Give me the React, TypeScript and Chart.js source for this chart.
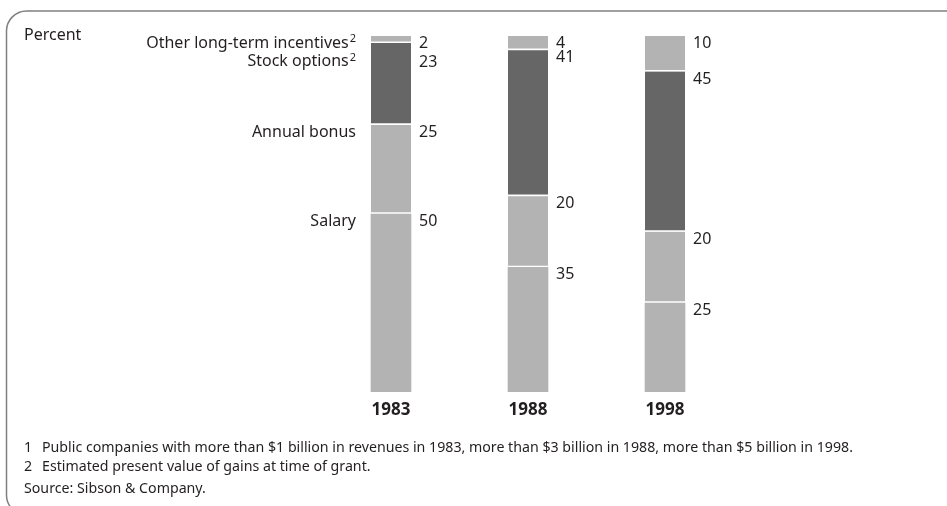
import React, { useEffect, useRef } from "react";
import { Chart, registerables } from "chart.js";

Chart.register(...registerables);

const years = ["1983", "1988", "1998"];
const salary = [50, 35, 25];
const annualBonus = [25, 20, 20];
const stockOptions = [23, 41, 45];
const otherLongTerm = [2, 4, 10];
const seriesNames = ["Salary", "Annual bonus", "Stock options", "Other long-term incentives"];
const seriesNotes = ["", "", "2", "2"];
const unitLabel = "Percent";
const footnotes = [
  ["1", "Public companies with more than $1 billion in revenues in 1983, more than $3 billion in 1988, more than $5 billion in 1998."],
  ["2", "Estimated present value of gains at time of grant."],
];
const sourceNote = "Source: Sibson & Company.";

const LIGHT = "#b3b3b3";
const DARK = "#666666";
const TEXT = "#231f20";
const FONT = "'Noto Sans', sans-serif";

const framePlugin = {
  id: "frame",
  beforeDraw(chart: any) {
    const ctx = chart.ctx;
    ctx.save();
    ctx.strokeStyle = "#808080";
    ctx.lineWidth = 1.5;
    const x = 6.5, y = 11, r = 20, b = 515;
    ctx.beginPath();
    ctx.moveTo(chart.width, y);
    ctx.lineTo(x + r, y);
    ctx.arcTo(x, y, x, y + r, r);
    ctx.lineTo(x, b - r);
    ctx.arcTo(x, b, x + r, b, r);
    ctx.stroke();
    ctx.restore();
  },
};

const labelPlugin = {
  id: "labels",
  afterDatasetsDraw(chart: any) {
    const ctx = chart.ctx;
    const yScale = chart.scales.y;
    const xScale = chart.scales.x;
    const dsList = chart.data.datasets;
    ctx.save();
    ctx.fillStyle = TEXT;

    ctx.font = `16px ${FONT}`;
    ctx.textAlign = "left";
    ctx.textBaseline = "alphabetic";
    ctx.fillText(unitLabel, 24, 40);

    years.forEach((yr, i) => {
      const meta0 = chart.getDatasetMeta(0);
      const bar = meta0.data[i];
      const half = bar.width / 2;
      const right = bar.x + half;
      const left = bar.x - half;
      let cum = 0;
      const tops: number[] = [];
      dsList.forEach((ds: any, k: number) => {
        cum += ds.data[i];
        tops[k] = yScale.getPixelForValue(cum);
      });
      const minGap = i === 0 ? 18.5 : 14;
      let prev = -Infinity;
      for (let k = dsList.length - 1; k >= 0; k--) {
        const base = Math.max(tops[k] + 12, prev + minGap);
        prev = base;
        ctx.font = `16px ${FONT}`;
        ctx.textAlign = "left";
        ctx.fillText(String(dsList[k].data[i]), right + 8, base);
        if (i === 0) {
          const name = seriesNames[k];
          const note = seriesNotes[k];
          ctx.font = `11px ${FONT}`;
          const nw = note ? ctx.measureText(note).width + 1 : 0;
          const endX = left - 15;
          if (note) {
            ctx.textAlign = "left";
            ctx.fillText(note, endX - nw + 1, base - 6);
          }
          ctx.font = `16px ${FONT}`;
          ctx.textAlign = "right";
          ctx.fillText(name, endX - nw, base - 0.5);
        }
      }
      ctx.font = `bold 17px ${FONT}`;
      ctx.textAlign = "center";
      ctx.fillText(yr, xScale.getPixelForValue(i), 415);
    });

    ctx.font = `14.2px ${FONT}`;
    ctx.textAlign = "left";
    footnotes.forEach((f, j) => {
      const by = 452 + j * 19;
      ctx.fillText(f[0], 24, by);
      ctx.fillText(f[1], 42, by);
    });
    ctx.fillText(sourceNote, 24, 493);
    ctx.restore();
  },
};

export default function App() {
  const ref = useRef<HTMLCanvasElement>(null);
  useEffect(() => {
    const sep = { top: 0, left: 0, right: 0, bottom: 2 };
    const mk = (label: string, data: number[], color: string, border: boolean) => ({
      label,
      data,
      backgroundColor: color,
      borderColor: "#ffffff",
      borderWidth: border ? sep : 0,
      borderSkipped: false,
      barThickness: 40,
    });
    const chart = new Chart(ref.current!, {
      type: "bar",
      data: {
        labels: years,
        datasets: [
          mk(seriesNames[0], salary, LIGHT, false),
          mk(seriesNames[1], annualBonus, LIGHT, true),
          mk(seriesNames[2], stockOptions, DARK, true),
          mk(seriesNames[3], otherLongTerm, LIGHT, true),
        ] as any,
      },
      options: {
        responsive: false,
        animation: false,
        layout: { padding: { left: 322.5, right: 213.5, top: 36, bottom: 114 } },
        scales: {
          x: { stacked: true, display: false },
          y: { stacked: true, display: false, min: 0, max: 100 },
        },
        plugins: { legend: { display: false }, tooltip: { enabled: false } },
      },
      plugins: [framePlugin, labelPlugin],
    });
    return () => chart.destroy();
  }, []);
  return (
    <div style={{ position: "absolute", left: 0, top: 0, width: 947, height: 506, background: "#fff" }}>
      <canvas ref={ref} width={947} height={506} style={{ width: 947, height: 506, display: "block" }} />
    </div>
  );
}
